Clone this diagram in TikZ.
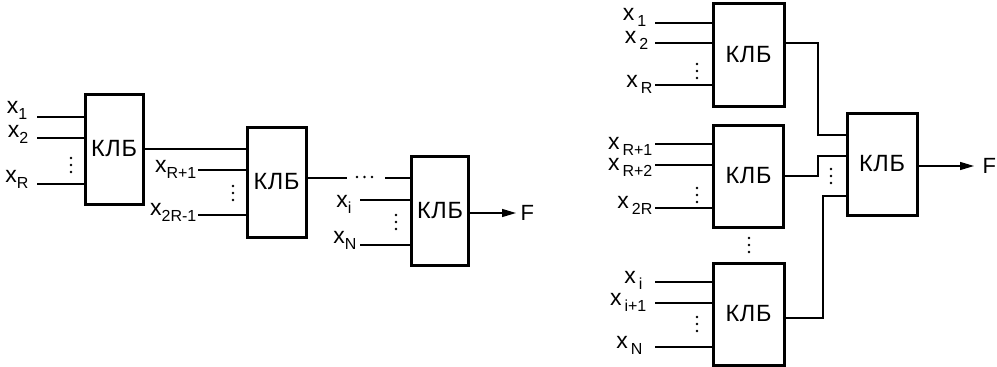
\documentclass[tikz,border=0pt]{standalone}
\usepackage{fontspec}
\setmainfont{Liberation Sans}
\usetikzlibrary{arrows.meta}

% x with a lowered index (left chain: tight, right tree: with a gap)
\newcommand\xsub[1]{x\raisebox{-6pt}{\fontsize{16}{16}\selectfont #1}}
\newcommand\xsubg[1]{x\kern3pt\raisebox{-6pt}{\fontsize{16}{16}\selectfont #1}}

\begin{document}
\begin{tikzpicture}[x=1pt, y=-1pt, line width=1.3pt,
  font=\fontsize{23}{27}\selectfont,
  klb/.style={draw, line width=3pt, inner sep=0pt, minimum width=58pt, minimum height=110pt,
    font=\fontsize{23.5}{27}\selectfont\addfontfeature{LetterSpace=3}},
  klbr/.style={klb, minimum width=70pt, minimum height=102pt},
  lbl/.style={anchor=base east, inner sep=0pt},
  fout/.style={anchor=west, font=\fontsize{22}{25}\selectfont},
  outarrow/.style={-{Triangle[length=14pt, width=8pt]}}]
  \useasboundingbox (0,0) rectangle (997,367);

  % ---- chain of blocks (left)
  \node[klb] (b1) at (114,149) {КЛБ};
  \node[klb, minimum width=59pt] (b2) at (276.5,182) {КЛБ};
  \node[klb, minimum width=57pt, minimum height=109pt] (b3) at (440,210.5) {КЛБ};
  % inputs
  \foreach \n/\x/\y/\b in {1/37/117/b1, 2/37/138/b1, 3/37/184/b1,
                           4/198/170/b2, 5/198/215/b2,
                           6/385/178/b3, 7/360/200/b3, 8/360/245/b3}{
    \coordinate (p\n) at (\x,\y);
    \draw (p\n) -- (p\n -| \b.west);}
  \node[lbl] (l1) at (28,113) {\xsub{1}};
  \node[lbl] (l2) at (29,137) {\xsub{2}};
  \node[lbl] (l3) at (29,182) {\xsub{R}};
  \node[lbl] (l4) at (197,172) {\xsub{R+1}};
  \node[lbl] (l5) at (197,215) {\xsub{2R-1}};
  \node[lbl] (l7) at (352,207) {\xsub{i}};
  \node[lbl] (l8) at (357,243) {\xsub{N}};
  % links between blocks
  \draw (b1.east) -- (b1.east -| b2.west);
  \coordinate (h1) at (347,178);
  \draw (h1 -| b2.east) -- (h1);
  \node[fout, inner xsep=4pt] (f1) at (516,213) {F};
  \draw[outarrow] (f1.west -| b3.east) -- (f1.west);

  % ---- tree of blocks (right)
  \node[klbr, minimum width=71pt, minimum height=103pt] (a) at (748.5,54.5) {КЛБ};
  \node[klbr] (b) at (748.5,176) {КЛБ};
  \node[klbr, minimum width=71pt] (c) at (748.5,314) {КЛБ};
  \node[klbr] (d) at (882,164) {КЛБ};
  \foreach \n/\y/\b in {1/23/a, 2/43/a, 3/85/a,
                        4/144/b, 5/165/b, 6/208/b,
                        7/282/c, 8/303/c, 9/347/c}{
    \coordinate (q\n) at (655,\y);
    \draw (q\n) -- (q\n -| \b.west);}
  \node[lbl] (r1) at (647,20) {\xsubg{1}};
  \node[lbl] (r2) at (649,43) {\xsubg{2}};
  \node[lbl] (r3) at (653,87) {\xsubg{R}};
  \node[lbl] (r4) at (653,149) {\xsubg{R+1}};
  \node[lbl] (r5) at (653,170) {\xsubg{R+2}};
  \node[lbl] (r6) at (653,208) {\xsubg{2R}};
  \node[lbl] (r7) at (643,283) {\xsubg{i}};
  \node[lbl] (r8) at (647,305) {\xsubg{i+1}};
  \node[lbl] (r9) at (643,348) {\xsubg{N}};
  % outputs into the last block
  \coordinate (ka1) at (818,43);  \coordinate (ka2) at (818,135);
  \coordinate (kb1) at (818,176); \coordinate (kb2) at (818,156);
  \coordinate (kc1) at (823,318); \coordinate (kc2) at (823,196);
  \draw (ka1 -| a.east) -- (ka1) -- (ka2) -- (ka2 -| d.west);
  \draw (kb1 -| b.east) -- (kb1) -- (kb2) -- (kb2 -| d.west);
  \draw (kc1 -| c.east) -- (kc1) -- (kc2) -- (kc2 -| d.west);
  \node[fout, inner xsep=8pt] (f2) at (974,166) {F};
  \draw[outarrow] (f2.west -| d.east) -- (f2.west);

  % ---- dots
  \foreach \x/\y in {71/165, 233/193, 396/222, 697/71, 697/195, 697/324, 749/245, 831/176}{
    \fill (\x,\y-7) circle (1.4pt) (\x,\y) circle (1.4pt) (\x,\y+7) circle (1.4pt);}
  \foreach \x in {357,364.5,372}{\fill (\x,177) circle (1.4pt);}
\end{tikzpicture}
\end{document}
